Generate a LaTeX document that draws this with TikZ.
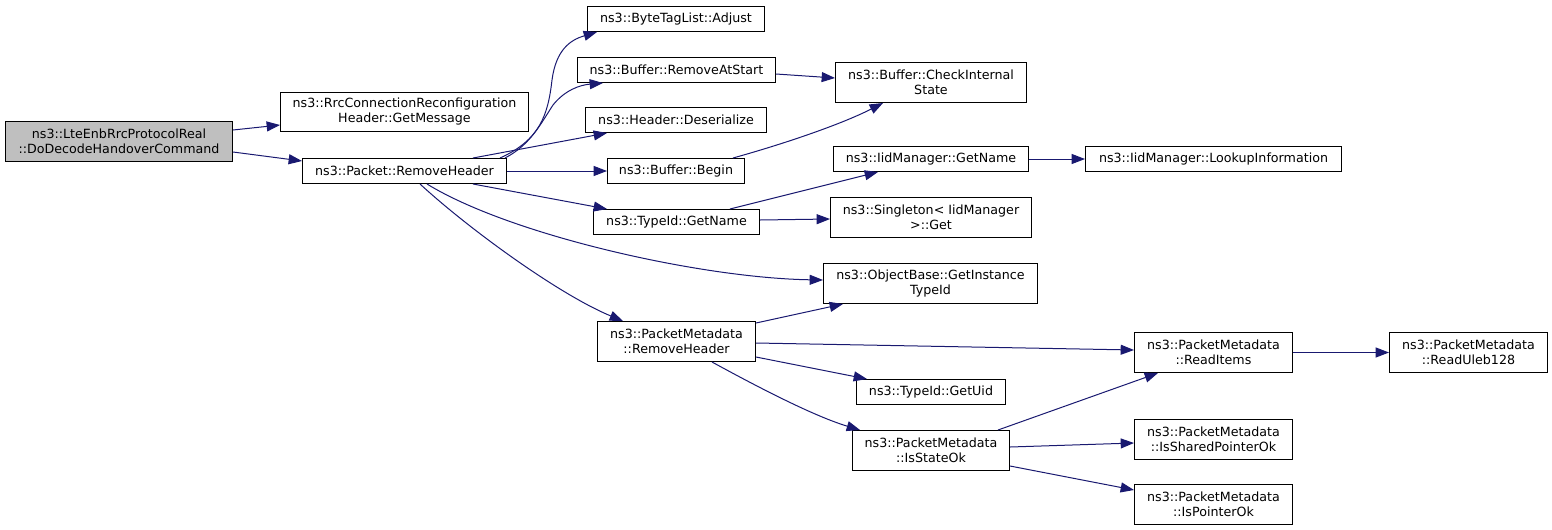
\documentclass[tikz,border=0pt]{standalone}
\usepackage{fontspec}
\setmainfont{DejaVu Sans}
\usetikzlibrary{arrows.meta,calc}
\definecolor{edgeblue}{RGB}{25,25,112}
\definecolor{rootgray}{RGB}{191,191,191}
\tikzset{
  fn/.style={draw=black, line width=0.75pt, fill=white, anchor=north west, inner sep=0pt,
    align=center, font=\fontsize{9.5}{11.25}\selectfont, minimum height=18.75pt},
  fn2/.style={fn, minimum height=30pt},
  call/.style={draw=edgeblue, line width=0.75pt, -{Triangle[length=10pt,width=7.5pt]}},
}
\begin{document}
\begin{tikzpicture}[x=0.75pt,y=-0.75pt]
\useasboundingbox (0,0) rectangle (1552,529);
% nodes
\node[fn2, fill=rootgray, minimum width=170.25pt] (root) at (5,121) {ns3::LteEnbRrcProtocolReal\\::DoDecodeHandoverCommand};
\node[fn2, minimum width=186pt, minimum height=29.25pt] (rrc) at (280,92) {ns3::RrcConnectionReconfiguration\\Header::GetMessage};
\node[fn, minimum width=153pt] (pr) at (302,158) {ns3::Packet::RemoveHeader};
\node[fn, minimum width=132.75pt] (btl) at (587,6) {ns3::ByteTagList::Adjust};
\node[fn, minimum width=148.5pt] (ras) at (577,57) {ns3::Buffer::RemoveAtStart};
\node[fn2, minimum width=143.25pt] (cis) at (835,62) {ns3::Buffer::CheckInternal\\State};
\node[fn, minimum width=135.75pt] (des) at (585,107) {ns3::Header::Deserialize};
\node[fn, minimum width=102.75pt] (beg) at (607,158) {ns3::Buffer::Begin};
\node[fn, minimum width=146.25pt] (iidn) at (833,146) {ns3::IidManager::GetName};
\node[fn, minimum width=192pt] (look) at (1085,146) {ns3::IidManager::LookupInformation};
\node[fn, minimum width=124.5pt] (tgn) at (593,209) {ns3::TypeId::GetName};
\node[fn2, minimum width=150.75pt] (sing) at (830,197) {ns3::Singleton< IidManager\\ >::Get};
\node[fn2, minimum width=160.5pt] (obj) at (823,263) {ns3::ObjectBase::GetInstance\\TypeId};
\node[fn2, minimum width=118.5pt] (pmrh) at (597,321) {ns3::PacketMetadata\\::RemoveHeader};
\node[fn, minimum width=111.75pt] (uid) at (856,379) {ns3::TypeId::GetUid};
\node[fn2, minimum width=117.75pt] (iso) at (852,430) {ns3::PacketMetadata\\::IsStateOk};
\node[fn2, minimum width=118.5pt] (rit) at (1134,332) {ns3::PacketMetadata\\::ReadItems};
\node[fn2, minimum width=118.5pt] (rul) at (1389,332) {ns3::PacketMetadata\\::ReadUleb128};
\node[fn2, minimum width=118.5pt] (isp) at (1134,419) {ns3::PacketMetadata\\::IsSharedPointerOk};
\node[fn2, minimum width=118.5pt] (ipo) at (1134,484) {ns3::PacketMetadata\\::IsPointerOk};
% edges
\draw[call] ($(root.north east)+(0,9)$) -- ($(rrc.north west)+(0,33)$);
\draw[call] ($(root.north east)+(0,31)$) -- ($(pr.north west)+(0,3)$);
\draw[call] ($(pr.north west)+(198,0)$) .. controls (540,140) and (548,115) .. (552,80)
   .. controls (556,50) and (570,40) .. ($(btl.south west)+(10,0)$);
\draw[call] ($(pr.north west)+(203,0)$) .. controls (530,145) and (540,125) .. (553,105)
   .. controls (565,90) and (580,85) .. ($(ras.south west)+(26,0)$);
\draw[call] ($(pr.north west)+(171,0)$) -- ($(des.south west)+(22,0)$);
\draw[call] (pr.east) -- (beg.west);
\draw[call] ($(pr.south west)+(171,0)$) -- ($(tgn.north west)+(14,0)$);
\draw[call] ($(pr.south west)+(125,0)$) .. controls (510,235) and (700,278) .. ($(obj.north west)+(0,17)$);
\draw[call] ($(pr.south west)+(118,0)$) .. controls (470,230) and (560,295) .. ($(pmrh.north west)+(26,0)$);
\draw[call] ($(ras.north east)+(0,17)$) -- ($(cis.north west)+(0,16)$);
\draw[call] ($(beg.north west)+(126,0)$) .. controls (780,145) and (840,125) .. ($(cis.south west)+(48,0)$);
\draw[call] ($(tgn.north west)+(137,0)$) -- ($(iidn.south west)+(45,0)$);
\draw[call] ($(tgn.north east)+(0,11)$) -- ($(sing.north west)+(0,22)$);
\draw[call] (iidn.east) -- (look.west);
\draw[call] ($(pmrh.north east)+(0,2)$) -- ($(obj.south west)+(20,0)$);
\draw[call] ($(pmrh.north east)+(0,22)$) -- ($(rit.north west)+(0,18)$);
\draw[call] ($(pmrh.north east)+(0,36)$) -- ($(uid.north west)+(11,0)$);
\draw[call] ($(pmrh.south west)+(115,0)$) .. controls (745,380) and (810,415) .. ($(iso.north west)+(8,0)$);
\draw[call] ($(iso.north west)+(146,0)$) -- ($(rit.south west)+(24,0)$);
\draw[call] ($(iso.north east)+(0,17)$) -- ($(isp.north west)+(0,24)$);
\draw[call] ($(iso.north east)+(0,36)$) -- ($(ipo.north west)+(0,6)$);
\draw[call] (rit.east) -- (rul.west);
\end{tikzpicture}
\end{document}
